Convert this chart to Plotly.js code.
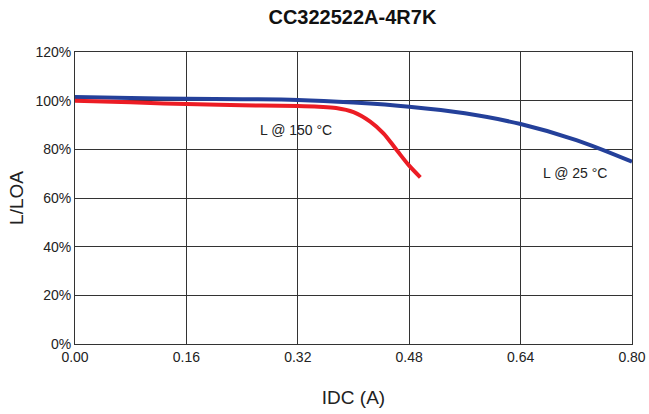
<!DOCTYPE html>
<html><head><meta charset="utf-8">
<script src="https://cdn.plot.ly/plotly-3.0.1.min.js"></script>
<style>html,body{margin:0;padding:0;background:#fff}#c{width:649px;height:414px}</style>
</head><body><div id="c"></div>
<script>
const blueX = [0.00, 0.08, 0.16, 0.24, 0.32, 0.40, 0.48, 0.56, 0.64, 0.72, 0.80];
const blueY = [101.5, 101.1, 100.8, 100.6, 100.3, 99.2, 97.5, 94.8, 90.4, 83.8, 74.9];
const redX = [0.00, 0.08, 0.16, 0.24, 0.32, 0.35, 0.375, 0.40, 0.424, 0.443, 0.462, 0.479, 0.496];
const redY = [100.0, 99.3, 98.6, 98.1, 97.8, 97.5, 97.0, 95.3, 91.4, 86.6, 79.7, 73.6, 68.5];
const xTicks = [0, 0.16, 0.32, 0.48, 0.64, 0.80];
const xTickText = ['0.00', '0.16', '0.32', '0.48', '0.64', '0.80'];
const yTicks = [0, 20, 40, 60, 80, 100, 120];
const yTickText = ['0%', '20%', '40%', '60%', '80%', '100%', '120%'];
const labels = [
  {text: 'L @ 150 °C', x: 0.317, y: 88},
  {text: 'L @ 25 °C', x: 0.718, y: 70.3}
];
const F = '"Liberation Sans Narrow", "Arial Narrow", "Liberation Sans", Arial, sans-serif';
const data = [
  {x: blueX, y: blueY, mode: 'lines', line: {color: '#24409a', width: 4, shape: 'spline'}, hoverinfo: 'skip'},
  {x: redX, y: redY, mode: 'lines', line: {color: '#ec1c24', width: 4, shape: 'spline'}, hoverinfo: 'skip'}
];
const layout = {
  width: 649, height: 414,
  margin: {l: 75, r: 17, t: 52, b: 70},
  paper_bgcolor: '#fff', plot_bgcolor: '#fff',
  showlegend: false,
  font: {family: F, color: '#222', size: 14},
  title: {text: '<b>CC322522A-4R7K</b>', x: 0.543, xanchor: 'center', y: 0.958, yanchor: 'middle',
          font: {family: F, size: 20, color: '#111'}},
  xaxis: {range: [0, 0.8], tickvals: xTicks, ticktext: xTickText, showgrid: true, gridcolor: '#333', gridwidth: 1,
          zeroline: false, showline: true, linecolor: '#333', linewidth: 1, mirror: true, ticks: '',
          tickfont: {family: F, size: 14, color: '#222'},
          title: {text: 'IDC (A)', font: {family: F, size: 19, color: '#222'}, standoff: 26}},
  yaxis: {range: [0, 120], tickvals: yTicks, ticktext: yTickText, showgrid: true, gridcolor: '#333', gridwidth: 1,
          zeroline: false, showline: true, linecolor: '#333', linewidth: 1, mirror: true, ticks: '',
          tickfont: {family: F, size: 14, color: '#222'},
          title: {text: 'L/LOA', font: {family: F, size: 19, color: '#222'}, standoff: 6}},
  annotations: labels.map(l => ({text: l.text, x: l.x, y: l.y, xref: 'x', yref: 'y', showarrow: false,
    font: {family: F, size: 14, color: '#222'}}))
};
Plotly.newPlot('c', data, layout, {staticPlot: true, displayModeBar: false});
</script></body></html>
